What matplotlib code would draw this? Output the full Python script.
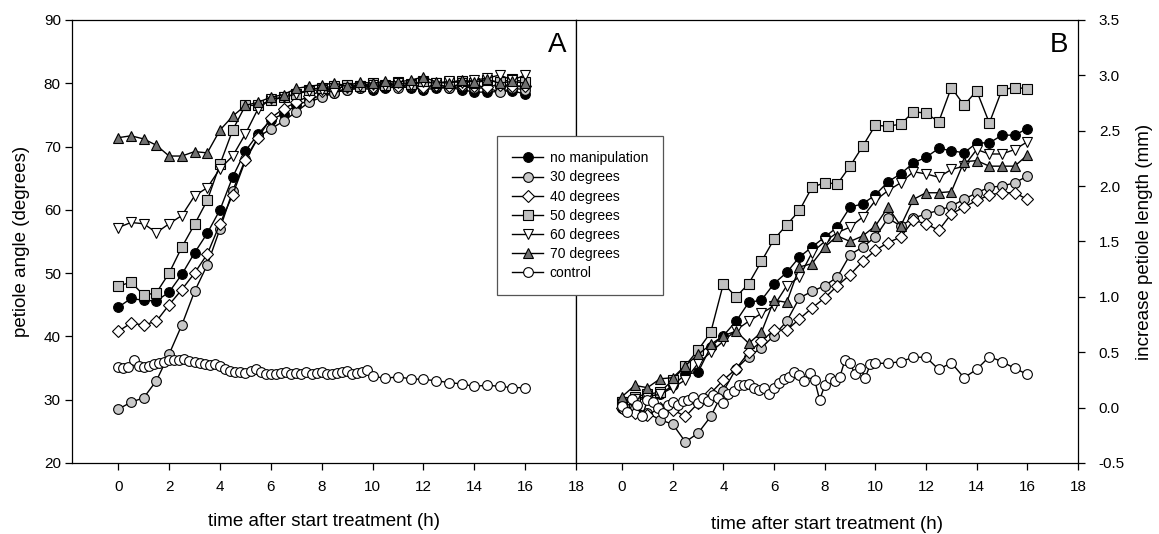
import matplotlib
matplotlib.use("Agg")
from matplotlib import pyplot as plt

plt.rcParams['font.family'] = ['Liberation Sans', 'DejaVu Sans']

# time points (h)
t_half = [0, 0.5, 1, 1.5, 2, 2.5, 3, 3.5, 4, 4.5, 5, 5.5, 6, 6.5, 7, 7.5, 8,
          8.5, 9, 9.5, 10, 10.5, 11, 11.5, 12, 12.5, 13, 13.5, 14, 14.5, 15, 15.5, 16]
t_ctrl = [0.0, 0.2, 0.4, 0.6, 0.8, 1.0, 1.2, 1.4, 1.6, 1.8, 2.0, 2.2, 2.4, 2.6, 2.8,
          3.0, 3.2, 3.4, 3.6, 3.8, 4.0, 4.2, 4.4, 4.6, 4.8, 5.0, 5.2, 5.4, 5.6, 5.8,
          6.0, 6.2, 6.4, 6.6, 6.8, 7.0, 7.2, 7.4, 7.6, 7.8, 8.0, 8.2, 8.4, 8.6, 8.8,
          9.0, 9.2, 9.4, 9.6, 9.8,
          10, 10.5, 11, 11.5, 12, 12.5, 13, 13.5, 14, 14.5, 15, 15.5, 16]

# panel A: petiole angle (degrees)
a_nomanip = [44.6, 46.0, 45.7, 45.6, 47.0, 49.8, 53.2, 56.3, 60.0, 65.2, 69.3, 72.0, 74.2,
             75.2, 76.5, 77.3, 78.2, 78.5, 79.0, 79.2, 79.0, 79.2, 79.5, 79.3, 79.0, 79.2,
             79.3, 79.0, 78.6, 78.6, 78.7, 78.8, 78.3]
a_30 = [28.5, 29.6, 30.3, 33.0, 37.2, 41.8, 47.1, 51.3, 57.0, 63.0, 68.0, 71.5, 72.8,
        74.0, 75.5, 77.0, 77.8, 78.5, 79.0, 79.2, 79.3, 79.5, 79.2, 79.5, 79.3, 79.5,
        79.2, 79.5, 79.2, 79.3, 78.6, 79.2, 79.0]
a_40 = [40.8, 42.1, 41.8, 42.4, 45.0, 47.4, 50.0, 53.0, 57.8, 62.4, 67.8, 71.4, 74.5,
        76.0, 77.0, 78.0, 78.8, 79.2, 79.5, 79.6, 79.4, 79.7, 79.5, 79.8, 79.4, 79.7,
        79.5, 79.8, 79.6, 79.4, 79.8, 79.6, 79.5]
a_50 = [47.9, 48.6, 46.5, 46.9, 50.0, 54.1, 57.7, 61.5, 67.2, 72.6, 76.5, 76.5, 77.3,
        77.8, 78.3, 79.0, 79.3, 79.5, 79.8, 79.6, 80.0, 79.8, 80.2, 79.9, 80.3, 80.0,
        80.2, 80.4, 80.0, 80.5, 80.2, 80.6, 80.2]
a_60 = [57.2, 58.0, 57.8, 56.4, 57.8, 59.1, 62.2, 63.5, 66.5, 68.5, 72.0, 76.0, 77.5,
        77.8, 78.3, 78.8, 79.0, 78.6, 79.2, 79.5, 79.8, 79.6, 80.0, 79.8, 80.2, 80.0,
        80.3, 80.1, 80.5, 80.8, 81.3, 80.5, 81.3]
a_70 = [71.4, 71.7, 71.2, 70.2, 68.5, 68.5, 69.2, 69.0, 72.6, 74.8, 76.5, 77.0, 77.8,
        78.2, 79.2, 79.5, 79.8, 80.0, 79.6, 80.2, 80.0, 80.3, 80.2, 80.5, 81.0, 80.2,
        80.0, 80.5, 80.2, 80.6, 80.0, 80.3, 80.0]
a_control = [35.1, 35.0, 35.2, 36.2, 35.4, 35.2, 35.3, 35.6, 35.8, 36.0, 36.2, 36.3, 36.2,
             36.4, 36.1, 36.0, 35.8, 35.6, 35.5, 35.6, 35.3, 34.8, 34.6, 34.4, 34.3, 34.2,
             34.6, 34.8, 34.3, 34.0, 34.1, 34.0, 34.2, 34.3, 34.1, 34.2, 34.0, 34.3, 34.1,
             34.2, 34.4, 34.0, 34.1, 34.2, 34.4, 34.6, 34.0, 34.2, 34.3, 34.7,
             33.7, 33.4, 33.6, 33.3, 33.2, 33.0, 32.7, 32.5, 32.1, 32.3, 32.1, 31.9, 31.9]

# panel B: increase petiole length (mm)
b_nomanip = [0.0, 0.05, 0.10, 0.12, 0.20, 0.30, 0.32, 0.55, 0.65, 0.78, 0.95, 0.97, 1.12,
             1.22, 1.36, 1.45, 1.54, 1.63, 1.81, 1.84, 1.92, 2.04, 2.11, 2.21, 2.26, 2.34,
             2.32, 2.30, 2.39, 2.39, 2.46, 2.46, 2.52]
b_30 = [0.0, 0.0, -0.05, -0.11, -0.15, -0.31, -0.23, -0.08, 0.15, 0.35, 0.46, 0.54, 0.65,
        0.78, 0.99, 1.05, 1.10, 1.18, 1.38, 1.45, 1.54, 1.71, 1.64, 1.71, 1.75, 1.78,
        1.82, 1.88, 1.94, 1.99, 2.00, 2.03, 2.09]
b_40 = [0.0, -0.05, -0.07, 0.0, -0.02, -0.08, 0.04, 0.13, 0.25, 0.35, 0.50, 0.60, 0.70,
        0.70, 0.80, 0.90, 0.99, 1.10, 1.20, 1.32, 1.42, 1.49, 1.54, 1.69, 1.66, 1.60,
        1.75, 1.81, 1.87, 1.92, 1.94, 1.94, 1.88]
b_50 = [0.05, 0.10, 0.12, 0.14, 0.25, 0.38, 0.52, 0.68, 1.12, 1.00, 1.12, 1.32, 1.52,
        1.65, 1.78, 1.99, 2.03, 2.02, 2.18, 2.36, 2.55, 2.54, 2.56, 2.67, 2.66, 2.58,
        2.89, 2.73, 2.86, 2.57, 2.87, 2.89, 2.88]
b_60 = [0.05, 0.08, 0.10, 0.12, 0.18, 0.25, 0.40, 0.50, 0.60, 0.70, 0.78, 0.85, 0.92,
        1.10, 1.18, 1.40, 1.50, 1.58, 1.63, 1.72, 1.87, 1.96, 2.03, 2.13, 2.11, 2.08,
        2.15, 2.18, 2.33, 2.29, 2.29, 2.33, 2.40]
b_70 = [0.10, 0.20, 0.18, 0.26, 0.27, 0.38, 0.48, 0.57, 0.65, 0.69, 0.58, 0.68, 0.97,
        0.95, 1.27, 1.30, 1.45, 1.55, 1.50, 1.55, 1.64, 1.81, 1.64, 1.88, 1.94, 1.94,
        1.95, 2.22, 2.23, 2.18, 2.18, 2.18, 2.28]
b_control = [0.01, -0.04, 0.08, 0.02, -0.08, 0.07, 0.05, 0.0, -0.05, 0.02, 0.05, 0.02, 0.06,
             0.07, 0.10, 0.04, 0.09, 0.06, 0.11, 0.09, 0.04, 0.12, 0.15, 0.20, 0.20, 0.21,
             0.18, 0.16, 0.18, 0.12, 0.18, 0.22, 0.26, 0.28, 0.32, 0.29, 0.24, 0.31, 0.25,
             0.07, 0.20, 0.27, 0.24, 0.28, 0.43, 0.40, 0.30, 0.36, 0.27, 0.39,
             0.40, 0.40, 0.415, 0.455, 0.455, 0.345, 0.405, 0.27, 0.345, 0.46, 0.415, 0.355, 0.30]

labels = ['no manipulation', '30 degrees', '40 degrees', '50 degrees',
          '60 degrees', '70 degrees', 'control']
styles = [('o', 'black'), ('o', '#c8c8c8'), ('D', 'white'), ('s', '#c0c0c0'),
          ('v', 'white'), ('^', '#707070'), ('o', 'white')]
sizes = [7, 7, 6, 6.5, 7.5, 7.5, 7]

fig = plt.figure(figsize=(11.59, 5.34), dpi=100)
ax_a = fig.add_axes([0.0621, 0.133, 0.4349, 0.8296])
ax_b = fig.add_axes([0.4970, 0.133, 0.4331, 0.8296])

series_a = [a_nomanip, a_30, a_40, a_50, a_60, a_70]
series_b = [b_nomanip, b_30, b_40, b_50, b_60, b_70]


def dibuja(ax, series, control):
    lineas = []
    for i, ys in enumerate(series):
        m, c = styles[i]
        ln, = ax.plot(t_half, ys, marker=m, color='black', markerfacecolor=c,
                      markeredgecolor='black', markeredgewidth=0.8, markersize=sizes[i],
                      linewidth=1.0, label=labels[i])
        lineas.append(ln)
    m, c = styles[6]
    ln, = ax.plot(t_ctrl, control, marker=m, color='black', markerfacecolor=c,
                  markeredgecolor='black', markeredgewidth=0.8, markersize=sizes[6],
                  linewidth=1.0, label=labels[6])
    lineas.append(ln)
    ax.set_xlim(-1.82, 18)
    ax.set_xticks([0, 2, 4, 6, 8, 10, 12, 14, 16, 18])
    ax.tick_params(labelsize=11, length=5, width=0.9, direction='out', pad=3)
    ax.tick_params(axis='x', pad=7)
    for s in ax.spines.values():
        s.set_linewidth(0.9)
    return lineas


lineas = dibuja(ax_a, series_a, a_control)
ax_a.set_ylim(20, 90)
ax_a.set_yticks([20, 30, 40, 50, 60, 70, 80, 90])
ax_a.set_ylabel('petiole angle (degrees)', fontsize=13.5, labelpad=10)
ax_a.set_xlabel('time after start treatment (h)', fontsize=13.5, labelpad=14)
ax_a.text(0.98, 0.944, 'A', transform=ax_a.transAxes, fontsize=20, ha='right', va='center')

dibuja(ax_b, series_b, b_control)
ax_b.set_ylim(-0.5, 3.5)
ax_b.set_yticks([-0.5, 0.0, 0.5, 1.0, 1.5, 2.0, 2.5, 3.0, 3.5])
ax_b.set_yticklabels(['-0.5', '0.0', '0.5', '1.0', '1.5', '2.0', '2.5', '3.0', '3.5'])
ax_b.yaxis.tick_right()
ax_b.yaxis.set_label_position('right')
ax_b.tick_params(axis='y', pad=10)
ax_b.set_ylabel('increase petiole length (mm)', fontsize=13.5, labelpad=8)
ax_b.set_xlabel('time after start treatment (h)', fontsize=13.5, labelpad=16)
ax_b.text(0.98, 0.944, 'B', transform=ax_b.transAxes, fontsize=20, ha='right', va='center')

leg = fig.legend(handles=lineas, loc='upper left', bbox_to_anchor=(0.4288, 0.7453),
                 fontsize=10, frameon=True, fancybox=False, framealpha=1,
                 edgecolor='#555555', handlelength=2.2, borderpad=1.1,
                 labelspacing=0.37, handletextpad=0.5, borderaxespad=0)
leg.get_frame().set_linewidth(0.9)

fig.savefig('out.png', dpi=100)
